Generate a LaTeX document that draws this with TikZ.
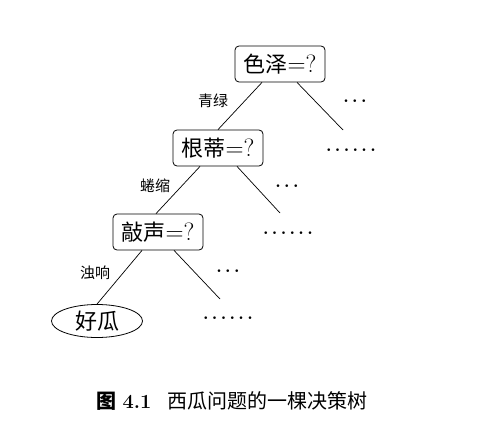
\documentclass[tikz,border=0pt]{standalone}
\usepackage{fontspec}
\usetikzlibrary{shapes.geometric}
\newfontfamily\cjk{Noto Sans CJK SC}
\begin{document}
\begin{tikzpicture}[x=1pt,y=-1pt,
  test/.style={draw,rounded corners=4pt,line width=0.8pt,inner sep=0pt,minimum width=90pt,minimum height=36pt,font=\fontsize{22}{22}\selectfont},
  leaf/.style={draw,ellipse,line width=0.8pt,inner sep=0pt,minimum width=91pt,minimum height=33pt,font=\fontsize{22}{22}\selectfont},
  branch/.style={line width=0.7pt},
  lbl/.style={font=\cjk\fontsize{15}{15}\selectfont},
  more/.style={font=\fontsize{19}{19}\selectfont\boldmath}]
\useasboundingbox (0,0) rectangle (478,428);
\node[test] (a) at (280,64) {{\cjk 色泽}{\fontsize{25}{25}\selectfont=?}};
\node[test] (b) at (218,148) {{\cjk 根蒂}{\fontsize{25}{25}\selectfont=?}};
\node[test] (c) at (158,232) {{\cjk 敲声}{\fontsize{25}{25}\selectfont=?}};
\node[leaf] (d) at (97,321) {\cjk 好瓜};
% right-hand branches that are left open
\coordinate (ar) at (343,130);
\coordinate (br) at (280,213);
\coordinate (cr) at (220,299);
\draw[branch] ([xshift=-18pt]a.south) -- (b.north);
\draw[branch] ([xshift=17pt]a.south) -- (ar);
\draw[branch] ([xshift=-18pt]b.south) -- ([xshift=-2pt]c.north);
\draw[branch] ([xshift=19pt]b.south) -- (br);
\draw[branch] ([xshift=-16pt]c.south) -- (d.north);
\draw[branch] ([xshift=16pt]c.south) -- (cr);
% branch labels
\node[lbl] (l1) at (213,101) {青绿};
\node[lbl] (l2) at (155,186) {蜷缩};
\node[lbl] (l3) at (95,273) {浊响};
% elided subtrees
\node[more] (m1) at (355,101) {$\cdots$};
\node[more] (m2) at (351,150) {$\cdots\cdots$};
\node[more] (m3) at (287,186) {$\cdots$};
\node[more] (m4) at (288,233) {$\cdots\cdots$};
\node[more] (m5) at (228,271) {$\cdots$};
\node[more] (m6) at (228,318) {$\cdots\cdots$};
% caption
\node[anchor=west,font=\fontsize{20}{20}\selectfont] (cap) at (93,401) {{\cjk\bfseries 图}\hspace{6pt}\textbf{4.1}\hspace{16pt}{\cjk 西瓜问题的一棵决策树}};
\end{tikzpicture}
\end{document}
